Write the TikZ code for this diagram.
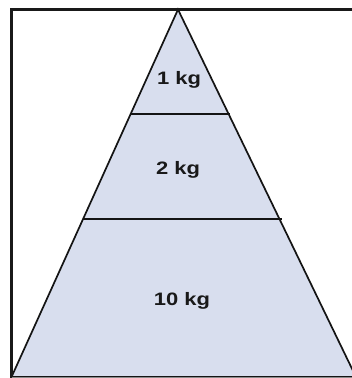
\documentclass[tikz,border=0pt]{standalone}
\usepackage{fontspec}
\setmainfont{Liberation Sans}
\definecolor{tierfill}{RGB}{216,222,238}
\definecolor{edge}{RGB}{20,20,20}
\tikzset{
  tier/.style={fill=tierfill,draw=edge,line width=1.7pt,line join=miter},
  divider/.style={draw=edge,line width=1.6pt},
  label/.style={font=\bfseries\fontsize{18}{18}\selectfont,text=black!90,inner sep=0pt,xscale=1.22}
}
\begin{document}
\begin{tikzpicture}[x=1pt,y=-1pt]
\useasboundingbox (0,0) rectangle (352,378);
\fill[white] (0,0) rectangle (352,378);
\begin{scope}
\clip (0,0) rectangle (352,378);
\draw[tier] (178,9.5) -- (11.5,377) -- (356,377) -- cycle;
\draw[divider] (130.2,114) -- (230,114);
\draw[divider] (82.5,219) -- (281.5,219);
\draw[black!90,line width=2.8pt] (11.5,380) -- (11.5,9.5) -- (360,9.5);
\draw[black!45,line width=1.2pt] (11.5,377.5) -- (360,377.5);
\end{scope}
\node[label] (t1) at (179,80) {1 kg};
\node[label] (t2) at (178,170) {2 kg};
\node[label] (t3) at (182,301) {10 kg};
\end{tikzpicture}
\end{document}
